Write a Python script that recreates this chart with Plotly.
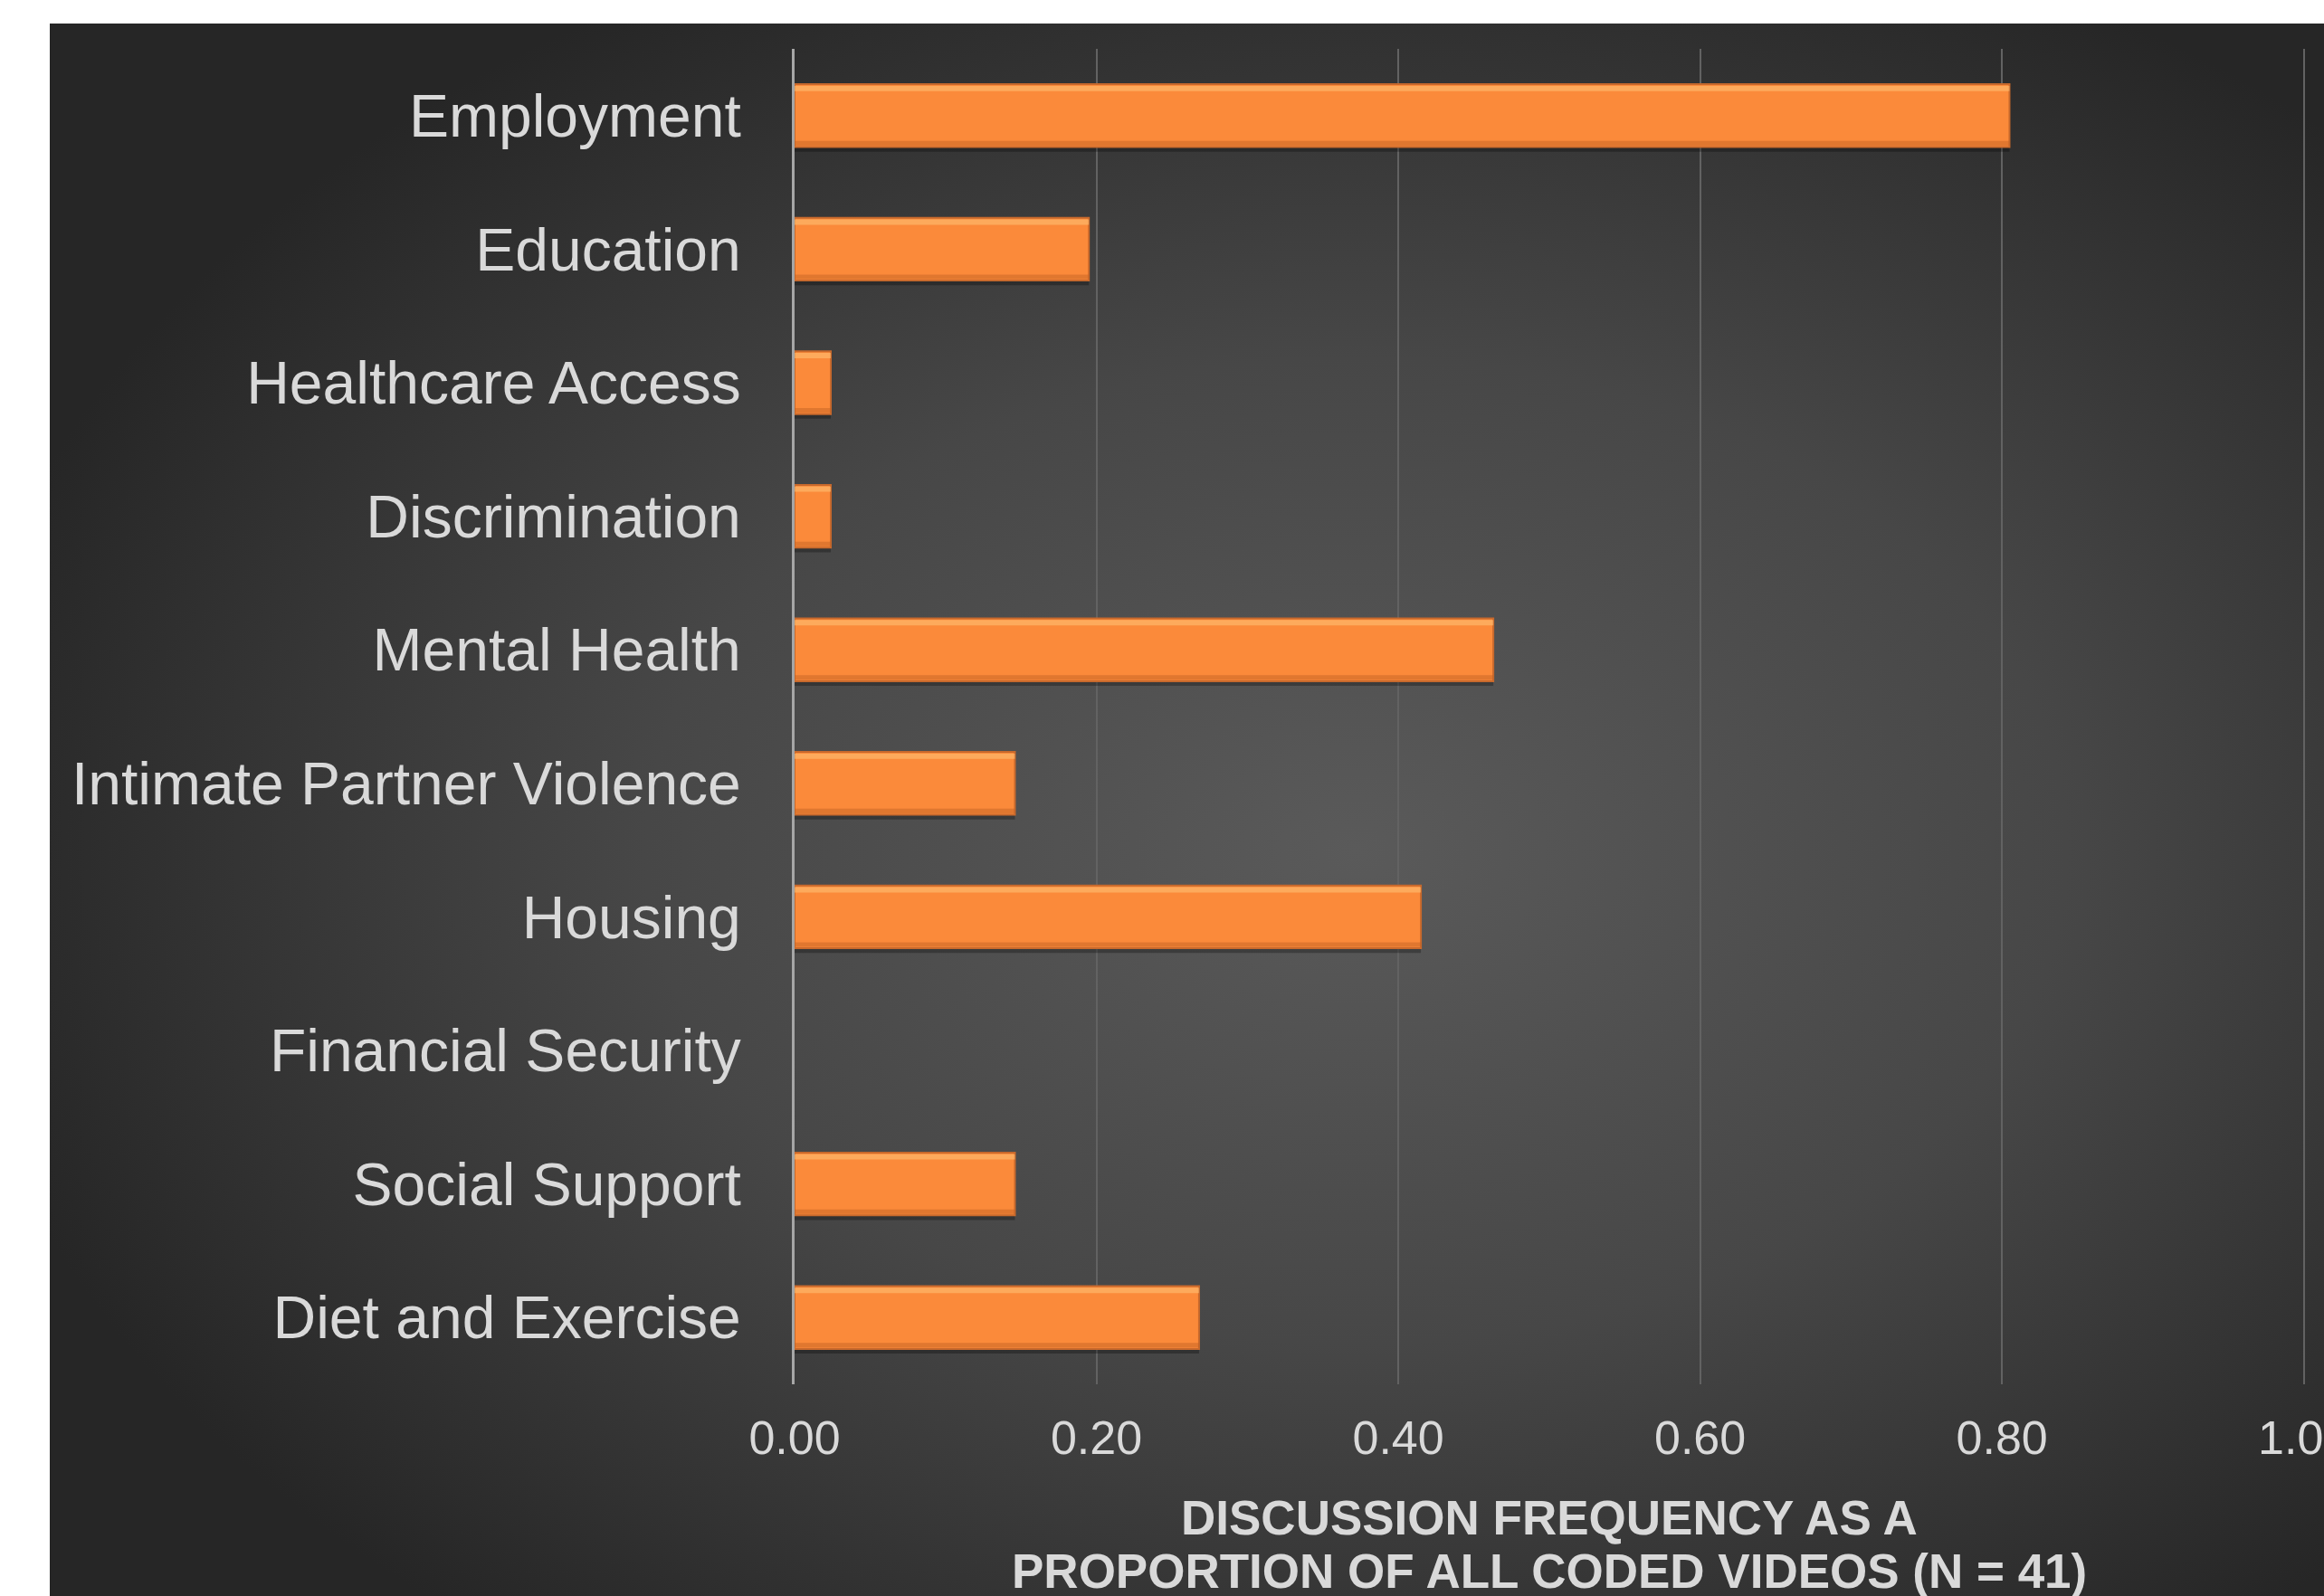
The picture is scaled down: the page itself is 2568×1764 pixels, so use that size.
import base64
import plotly.graph_objects as go

categories = ["Employment", "Education", "Healthcare Access", "Discrimination",
              "Mental Health", "Intimate Partner Violence", "Housing",
              "Financial Security", "Social Support", "Diet and Exercise"]
proportions = [0.805, 0.195, 0.024, 0.024, 0.463, 0.146, 0.415, 0.0, 0.146, 0.268]
tick_vals = [0.0, 0.2, 0.4, 0.6, 0.8, 1.0]
tick_text = ["0.00", "0.20", "0.40", "0.60", "0.80", "1.00"]
x_title_lines = ["DISCUSSION FREQUENCY AS A", "PROPORTION OF ALL CODED VIDEOS (N = 41)"]

W, H = 2568, 1764
XMAX = 1.002
ML, MT, MB = 878, 54, 234
MR = W - 878 - int(round(1668 * XMAX))
pw, ph = W - ML - MR, H - MT - MB

svg = """<svg xmlns='http://www.w3.org/2000/svg' width='2513' height='1738' viewBox='0 0 2513 1738' preserveAspectRatio='none'>
<defs><radialGradient id='g' cx='0.57' cy='0.52' r='0.62' gradientUnits='objectBoundingBox'>
<stop offset='0' stop-color='#5a5a5a'/><stop offset='0.5' stop-color='#474747'/><stop offset='1' stop-color='#262626'/>
</radialGradient></defs><rect width='2513' height='1738' fill='url(#g)'/></svg>"""
src = "data:image/svg+xml;base64," + base64.b64encode(svg.encode()).decode()

BW = 0.47
line_w = [2 if v > 0 else 0 for v in proportions]

fig = go.Figure()
# soft shadow
fig.add_trace(go.Bar(x=proportions, y=categories, orientation="h",
                     width=BW, offset=-BW / 2 + 0.035,
                     marker=dict(color="rgba(0,0,0,0.28)", line=dict(width=0)),
                     hoverinfo="skip"))
# main bar
fig.add_trace(go.Bar(x=proportions, y=categories, orientation="h",
                     width=BW, offset=-BW / 2,
                     marker=dict(color="#fb8a3a", line=dict(color="#c8692c", width=line_w))))
# top highlight
fig.add_trace(go.Bar(x=proportions, y=categories, orientation="h",
                     width=0.04, offset=-BW / 2 + 0.012,
                     marker=dict(color="rgba(255,196,120,0.55)", line=dict(width=0)),
                     hoverinfo="skip"))
# bottom darker edge
fig.add_trace(go.Bar(x=proportions, y=categories, orientation="h",
                     width=0.035, offset=BW / 2 - 0.045,
                     marker=dict(color="rgba(190,95,35,0.45)", line=dict(width=0)),
                     hoverinfo="skip"))

bg_x0, bg_y0 = 55, 26
annotations = []
for i, txt in enumerate(x_title_lines):
    ypix = 1677 + i * 59
    annotations.append(dict(text="<b>%s</b>" % txt, xref="paper", yref="paper",
                            x=(1712 - ML) / pw, y=(H - MB - ypix) / ph,
                            xanchor="center", yanchor="middle", showarrow=False,
                            font=dict(size=53, color="#d9d9d9", family="Liberation Sans, Arial")))

fig.update_layout(
    width=W, height=H,
    margin=dict(l=ML, r=MR, t=MT, b=MB, pad=0, autoexpand=False),
    paper_bgcolor="white", plot_bgcolor="rgba(0,0,0,0)",
    showlegend=False, barmode="overlay",
    images=[dict(source=src, xref="paper", yref="paper",
                 x=(bg_x0 - ML) / pw, y=(H - MB - bg_y0) / ph,
                 sizex=(W - bg_x0 + 20) / pw, sizey=(H - bg_y0 + 20) / ph,
                 xanchor="left", yanchor="top", sizing="stretch", layer="below")],
    font=dict(family="Liberation Sans, Arial", color="#d9d9d9"),
    xaxis=dict(range=[0, XMAX], tickvals=tick_vals, ticktext=tick_text,
               showgrid=True, gridcolor="#626262", gridwidth=2,
               zeroline=False, showline=False, automargin=False,
               ticklabeloverflow="allow",
               ticks="outside", ticklen=14, tickcolor="rgba(0,0,0,0)",
               tickfont=dict(size=52, color="#d9d9d9")),
    yaxis=dict(autorange="reversed", showgrid=False, zeroline=False,
               showline=True, linecolor="#a6a6a6", linewidth=3, automargin=False,
               ticks="outside", ticklen=43, tickcolor="rgba(0,0,0,0)",
               tickfont=dict(size=66, color="#d9d9d9")),
    annotations=annotations,
)
fig.write_html("out.html")
